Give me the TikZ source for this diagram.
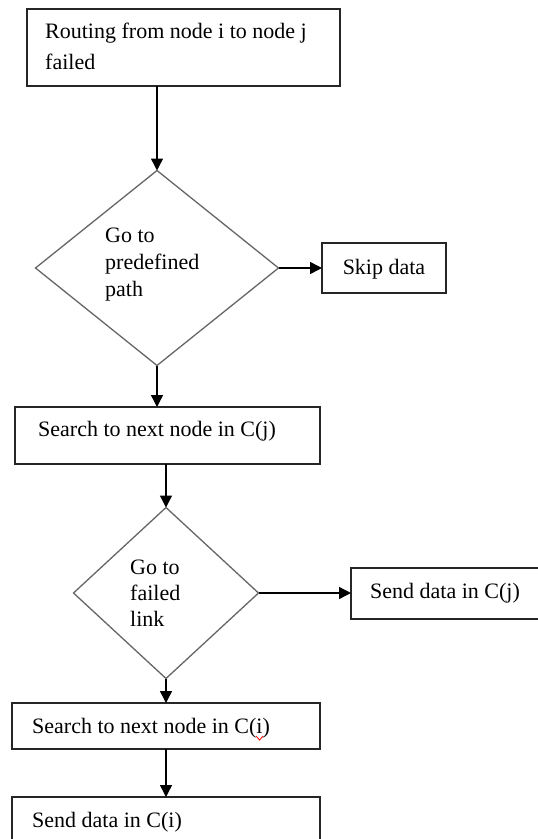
\documentclass[tikz,border=0pt]{standalone}
\usepackage{fontspec}
\setmainfont{Liberation Serif}
\usetikzlibrary{shapes.geometric,arrows.meta}
\begin{document}
\begin{tikzpicture}[x=1pt,y=-1pt,
  box/.style={draw=black!85, line width=1.8pt, rectangle, inner sep=0pt, outer sep=0pt, anchor=north west},
  dia/.style={draw=black!60, line width=1.3pt, diamond, inner sep=0pt, outer sep=0pt},
  lbl/.style={anchor=base west, inner sep=0pt, font=\fontsize{22}{26}\selectfont, text=black},
  arr/.style={draw=black, line width=1.4pt, -{Triangle[width=12pt,length=12pt]}}]
\useasboundingbox (0,0) rectangle (538,839);
\clip (0,0) rectangle (538,839);
\fill[white] (0,0) rectangle (538,839);
% boxes
\node[box, minimum width=313pt, minimum height=77pt] (b1) at (27,9) {};
\node[lbl] (t1a) at (45,38) {Routing from node i to node j};
\node[lbl] (t1b) at (45,69) {failed};
% diamond 1
\node[dia, minimum width=243pt, minimum height=195pt] (d1) at (157,268) {};
\node[lbl] (t2a) at (105,242) {Go to};
\node[lbl] (t2b) at (105,269) {predefined};
\node[lbl] (t2c) at (105,296) {path};
% skip
\node[box, minimum width=124pt, minimum height=50pt] (sk) at (322,243) {};
\node[lbl, anchor=base] (tsk) at (384,274) {Skip data};
% box 3
\node[box, minimum width=305pt, minimum height=57pt] (b3) at (15,407) {};
\node[lbl] (t3) at (38,436) {Search to next node in C(j)};
% diamond 2
\node[dia, minimum width=185pt, minimum height=171pt] (d2) at (166,593) {};
\node[lbl] (t4a) at (130,574) {Go to};
\node[lbl] (t4b) at (130,600) {failed};
\node[lbl] (t4c) at (130,626) {link};
% send j
\node[box, minimum width=200pt, minimum height=51pt] (sd) at (351,568) {};
\node[lbl] (tsd) at (370,598) {Send data in C(j)};
% box 5
\node[box, minimum width=308pt, minimum height=46pt] (b5) at (12,703) {};
\node[lbl] (t5) at (32,733) {Search to next node in C(i)};
\draw[red, line width=0.8pt] ([shift={(-14,3)}]t5.base east) -- ++(3.5,4) -- ++(3.5,-4);
% box 6
\node[box, minimum width=308pt, minimum height=60pt] (b6) at (12,797) {};
\node[lbl] (t6) at (32,827) {Send data in C(i)};
% connectors
\draw[arr] (b1.south -| d1.north) -- (d1.north);
\draw[arr] (d1.east) -- (d1.east -| sk.west);
\draw[arr] (d1.south) -- (d1.south |- b3.north);
\draw[arr] (b3.south -| d2.north) -- (d2.north);
\draw[arr] (d2.east) -- (d2.east -| sd.west);
\draw[arr] (d2.south) -- (d2.south |- b5.north);
\draw[arr] (b5.south -| d2.south) -- (b6.north -| d2.south);
\end{tikzpicture}
\end{document}
